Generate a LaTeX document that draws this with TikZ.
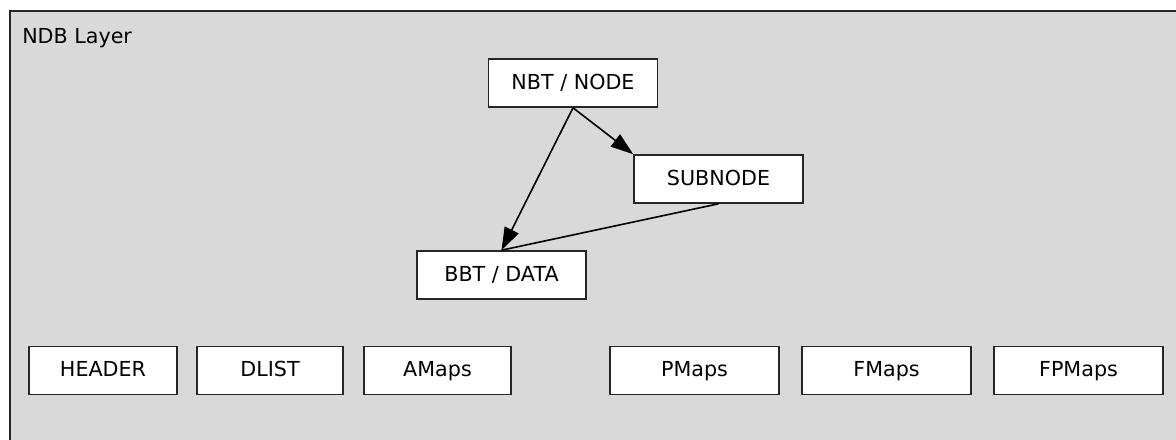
\documentclass[tikz,border=0pt]{standalone}
\usepackage{fontspec}
\setmainfont{DejaVu Sans}
\usepackage{xcolor}
\usetikzlibrary{positioning,arrows.meta}
\definecolor{layergray}{HTML}{D9D9D9}
\definecolor{edgegray}{HTML}{262626}

\begin{document}
\begin{tikzpicture}[x=0.75pt,y=-0.75pt]\tikzset{box/.style=
{draw=edgegray,fill=white,line width=1.2pt,
minimum height=36pt,inner sep=0pt,text height=11.5pt,text depth=2pt,
font=\fontsize{15.5}{18}\selectfont},
widebox/.style={box,minimum width=126.75pt},
arr/.style={line width=1.2pt,-{Triangle[length=17pt,width=11.5pt]}}}
		\useasboundingbox (0,0) rectangle (1176,439);
		\clip (0,0) rectangle (1176,439);
		\draw[draw=edgegray,fill=layergray,line width=1.2pt] (10,11) rectangle (1200,470);
		\node[anchor=base west,inner sep=0pt,font=\fontsize{15.5}{18}\selectfont] (layer) at (22,43) {NDB Layer};
		% tree part
		\node[widebox] (nbt) at (573,83) {NBT / NODE};
		\node[widebox] (sub) at (718.5,179) {SUBNODE};
		\node[widebox] (bbt) at (501.5,275) {BBT / DATA};
		\draw[arr] (nbt.south) -- (sub.north west);
		\draw[arr] (nbt.south) -- (bbt.north);
		\draw[line width=1.2pt] (sub.south) -- (bbt.north);
		% bottom row
		\node[box,minimum width=111pt] (header) at (103,370.5) {HEADER};
		\node[box,minimum width=109.5pt,right=13.8pt of header] (dlist) {DLIST};
		\node[box,minimum width=110.25pt,right=14.55pt of dlist] (amaps) {AMaps};
		\node[widebox,right=73.05pt of amaps] (pmaps) {PMaps};
		\node[widebox,right=16.05pt of pmaps] (fmaps) {FMaps};
		\node[widebox,right=16.05pt of fmaps] (fpmaps) {FPMaps};
	\end{tikzpicture}
\end{document}
